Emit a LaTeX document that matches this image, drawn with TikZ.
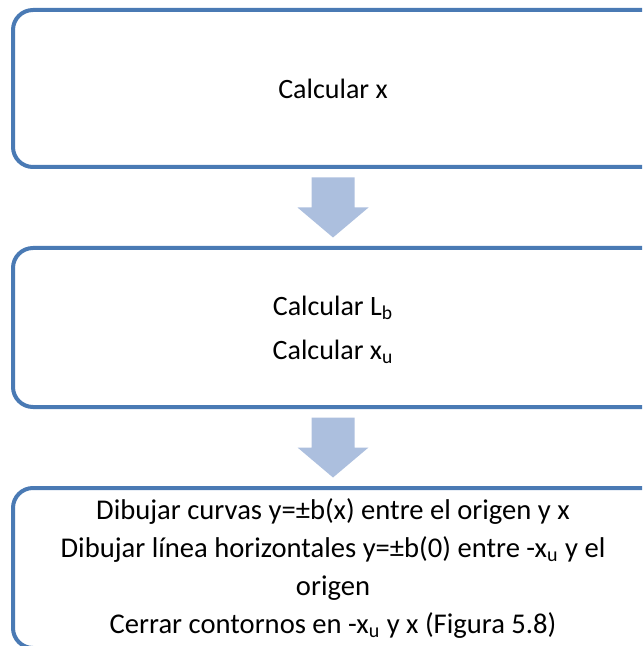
\documentclass[tikz,border=0pt]{standalone}
\usepackage{fontspec}
\setmainfont{Carlito}
\usetikzlibrary{calc}
\definecolor{boxline}{RGB}{74,122,180}
\definecolor{arrowfill}{RGB}{172,191,222}
\begin{document}
\begin{tikzpicture}[x=0.5pt,y=-0.5pt,
  stagebox/.style={draw=boxline, line width=2pt, rounded corners=10pt},
  steptext/.style={align=center, inner sep=0pt},
  downarrow/.style={fill=arrowfill}]
\useasboundingbox (0,0) rectangle (642,646);
\clip (0,0) rectangle (642,646);
% the three process steps (they run past the right and lower edges)
\draw[stagebox] (13,10) coordinate (s1nw) rectangle (760,167) coordinate (s1se);
\draw[stagebox] (13,248) coordinate (s2nw) rectangle (760,407) coordinate (s2se);
\draw[stagebox] (13,488) coordinate (s3nw) rectangle (760,648) coordinate (s3se);
% their texts
\node[steptext, font=\fontsize{14}{22}\selectfont] (t1) at (333,88.5)
  {Calcular x};
\node[steptext, font=\fontsize{14}{22}\selectfont] (t2) at (333,327.5)
  {\rule{0pt}{12pt}Calcular L\textsubscript{b}\\Calcular x\textsubscript{u}};
\node[steptext, font=\fontsize{14.3}{19}\selectfont] (t3) at (333,568)
  {Dibujar curvas y=±b(x) entre el origen y x\\
   Dibujar línea horizontales y=±b(0) entre -x\textsubscript{u} y el\\
   origen\\
   Cerrar contornos en -x\textsubscript{u} y x (Figura 5.8)};
% block arrows between the steps
\coordinate (a1) at (333,207.5);
\coordinate (a2) at (333,447.5);
\foreach \m in {a1, a2}{
  \fill[downarrow] ($(\m)+(-21.5,-30)$) -- ($(\m)+(21.5,-30)$) -- ($(\m)+(21.5,0)$)
    -- ($(\m)+(35.5,0)$) -- ($(\m)+(0,30)$) -- ($(\m)+(-35.5,0)$)
    -- ($(\m)+(-21.5,0)$) -- cycle;
}
\end{tikzpicture}
\end{document}
